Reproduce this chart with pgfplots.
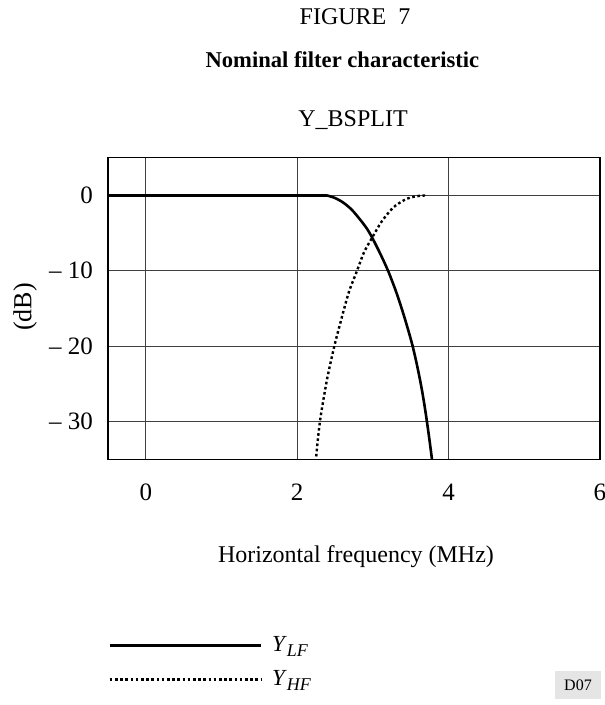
\documentclass[border=0pt]{standalone}
\usepackage{fontspec}
\setmainfont{Liberation Serif}
\usepackage{pgfplots}
\pgfplotsset{compat=1.18}
\begin{document}
\begin{tikzpicture}
\begin{axis}[
 at={(54pt,122.85pt)}, anchor=south west,
 scale only axis, width=246pt, height=150.8pt,
 xmin=-0.5, xmax=6, ymin=-35, ymax=5,
 xtick={0,2,4,6}, xticklabels={0,2,4,6},
 ytick={-30,-20,-10,0},
 yticklabels={\textendash\ 30,\textendash\ 20,\textendash\ 10,0},
 grid=major, major grid style={black!75, line width=0.5pt},
 major tick length=0pt,
 axis line style={black, line width=0.6pt},
 tick label style={font=\fontsize{12.5}{14}\selectfont},
 xticklabel style={yshift=-9pt},
 yticklabel style={xshift=-4pt},
 clip=true,
 legend style={draw=none, fill=none, at={(0,-0.572)}, anchor=north west,
   inner sep=0pt, row sep=4pt, font=\fontsize{11.5}{13}\selectfont,
   /tikz/every odd column/.append style={column sep=3pt}},
 legend cell align=left,
 legend image code/.code={\draw[#1] (0pt,0pt) -- (75.5pt,0pt);},
]
\addplot[black, line width=1.3pt, forget plot] coordinates {(-0.5,0) (2.39,0)};
\addplot[black, line width=1.3pt, smooth, tension=0.5] coordinates {
(2.39,0) (2.50,-0.35) (2.61,-0.97) (2.72,-1.9) (2.83,-3.2) (2.92,-4.4) (2.99,-5.6)
(3.10,-7.8) (3.20,-10) (3.30,-12.6) (3.38,-15.0) (3.45,-17.3) (3.52,-19.8) (3.58,-22.4)
(3.64,-25.4) (3.69,-28.4) (3.74,-31.9) (3.78,-35) (3.79,-36)};
\addlegendentry{\textit{Y}\raisebox{-0.45ex}{\textit{\small LF}}}
\addplot[black, line width=1.2pt, dash pattern=on 1.3pt off 1.3pt, smooth, tension=0.5] coordinates {
(2.245,-36) (2.25,-34.7) (2.30,-30) (2.39,-24.6) (2.49,-20) (2.57,-16.9) (2.68,-12.9) (2.79,-10)
(2.88,-7.6) (2.99,-5.6) (3.12,-3.4) (3.27,-1.6) (3.40,-0.7) (3.49,-0.3) (3.60,-0.08) (3.71,0)};
\addlegendentry{\textit{Y}\raisebox{-0.45ex}{\textit{\small HF}}}
\end{axis}
\node[font=\fontsize{12}{14}\selectfont] at (177.5pt,344.25pt) {FIGURE\ \ 7};
\node[font=\fontsize{11.3}{14}\selectfont\bfseries] at (171.2pt,322.5pt) {Nominal filter characteristic};
\node[font=\fontsize{12}{14}\selectfont] at (176.5pt,292.5pt) {Y\_BSPLIT};
\node[font=\fontsize{12}{14}\selectfont] at (178pt,74pt) {Horizontal frequency (MHz)};
\node[font=\fontsize{13}{15}\selectfont, rotate=90] at (12.5pt,199pt) {(dB)};
\node[fill=black!10, minimum width=23pt, minimum height=14pt, inner sep=0pt,
  font=\fontsize{8}{9}\selectfont] at (289pt,10pt) {D07};
\pgfresetboundingbox
\path[use as bounding box] (0pt,0pt) rectangle (302pt,352.5pt);
\end{tikzpicture}
\end{document}
